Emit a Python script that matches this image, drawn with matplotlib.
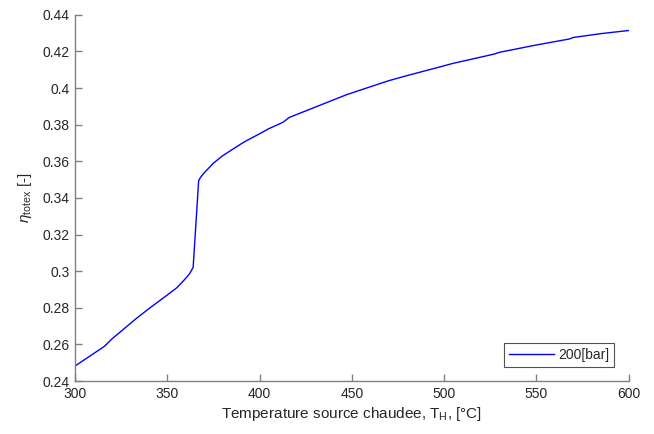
import matplotlib.pyplot as plt

plt.rcParams['font.family'] = ['Liberation Sans', 'DejaVu Sans']
plt.rcParams['mathtext.fontset'] = 'custom'
plt.rcParams['mathtext.rm'] = 'Liberation Sans'
plt.rcParams['mathtext.it'] = 'Liberation Sans:italic'

# Temperature (x) and efficiency (y)
temperature = [300, 316, 320, 333, 340, 350, 355, 359, 362, 364, 367, 368, 370, 375,
               380, 385, 390, 393, 400, 405, 411, 413, 416, 430, 447, 458, 470, 480,
               492, 505, 527, 530, 550, 568, 570, 585, 600]
eta_totex = [0.2482, 0.2590, 0.2630, 0.2740, 0.2795, 0.2870, 0.2908, 0.2950, 0.2985,
             0.3020, 0.3495, 0.3512, 0.3537, 0.3590, 0.3630, 0.3663, 0.3695, 0.3713,
             0.3750, 0.3778, 0.3805, 0.3815, 0.3839, 0.3895, 0.3963, 0.4000, 0.4040,
             0.4068, 0.4100, 0.4135, 0.4185, 0.4195, 0.4235, 0.4268, 0.4276, 0.4297,
             0.4314]

xticks = [300, 350, 400, 450, 500, 550, 600]
yticks = [0.24, 0.26, 0.28, 0.30, 0.32, 0.34, 0.36, 0.38, 0.40, 0.42, 0.44]
ytick_labels = ['0.24', '0.26', '0.28', '0.3', '0.32', '0.34', '0.36', '0.38', '0.4', '0.42', '0.44']

text_color = '#262626'
axis_color = '#808080'

fig = plt.figure(figsize=(6.54, 4.34), dpi=100)
ax = fig.add_axes([0.1147, 0.122, 0.8466, 0.844])

ax.plot(temperature, eta_totex, color='#0000ff', linewidth=1.0, label='200[bar]')

ax.set_xlim(300, 600)
ax.set_ylim(0.24, 0.44)
ax.set_xticks(xticks)
ax.set_yticks(yticks)
ax.set_yticklabels(ytick_labels)

ax.spines['top'].set_visible(False)
ax.spines['right'].set_visible(False)
for s in ['left', 'bottom']:
    ax.spines[s].set_color(axis_color)
    ax.spines[s].set_linewidth(1.0)
ax.tick_params(direction='in', length=5, width=1, colors=axis_color,
               labelcolor=text_color, labelsize=10, pad=4)

ax.set_xlabel('Temperature source chaudee, T$_\\mathrm{H}$, [$\\degree$C]',
              fontsize=11, color=text_color, labelpad=3)
ax.set_ylabel('$\\eta_{\\mathrm{totex}}$ [-]', fontsize=11, color=text_color, labelpad=6)

leg = ax.legend(loc='lower right', bbox_to_anchor=(0.973, 0.038), borderaxespad=0,
                fontsize=10, frameon=True, fancybox=False, handlelength=3.2,
                borderpad=0.35, handletextpad=0.3)
leg.get_frame().set_edgecolor(text_color)
leg.get_frame().set_linewidth(0.8)
for t in leg.get_texts():
    t.set_color(text_color)

fig.savefig('out.png', dpi=100)
